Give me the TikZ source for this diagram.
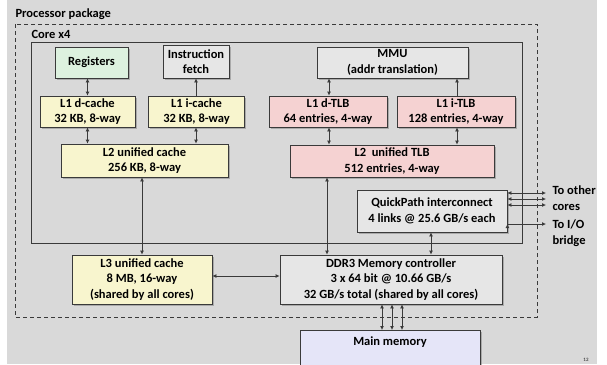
\documentclass[tikz,border=0pt]{standalone}
\usepackage{fontspec}
\setmainfont{Carlito}
\usetikzlibrary{arrows.meta, shadows}
\definecolor{bggray}{HTML}{D9D9D9}
\definecolor{linegray}{HTML}{3A3A3A}
\definecolor{regfill}{HTML}{DDF1DF}
\definecolor{cachefill}{HTML}{F8F5CE}
\definecolor{tlbfill}{HTML}{F5D2D2}
\definecolor{unitfill}{HTML}{E6E6E6}
\definecolor{memfill}{HTML}{E5E5F8}
\begin{document}
\begin{tikzpicture}[x=1pt, y=-1pt, font=\fontsize{12.5}{15.5}\selectfont\bfseries,
    unit/.style={draw=linegray, line width=0.8pt, align=center, inner sep=0pt,
        drop shadow={shadow xshift=1.5pt, shadow yshift=-1.5pt, fill=black!45, opacity=0.6}},
    link/.style={draw=linegray, line width=0.8pt, {Latex[length=4pt,width=4pt]}-{Latex[length=4pt,width=4pt]}},
    uplink/.style={draw=linegray, line width=0.8pt, -{Latex[length=4pt,width=4pt]}}]
    \useasboundingbox (0,0) rectangle (607,364);
    \fill[bggray] (7,0) rectangle (597,364);
    \draw[linegray, line width=0.8pt, dash pattern=on 4pt off 3pt] (15,24) rectangle (537,317);
    \node[anchor=west] (pkg) at (12,14) {Processor package};
    \draw[linegray, line width=0.8pt] (31,42) rectangle (522,243);
    \node[anchor=west] (core) at (28,34) {Core x4};

    \node[unit, fill=regfill, minimum width=73, minimum height=31] (reg) at (91.5,62.5) {Registers};
    \node[unit, fill=unitfill, minimum width=66, minimum height=33] (fetch) at (196,61.5) {Instruction\\fetch};
    \node[unit, fill=cachefill, minimum width=95, minimum height=31] (l1d) at (87.5,111.5) {L1 d-cache\\32 KB, 8-way};
    \node[unit, fill=cachefill, minimum width=96, minimum height=31] (l1i) at (196.5,111.5) {L1 i-cache\\32 KB, 8-way};
    \node[unit, fill=cachefill, minimum width=167, minimum height=33] (l2) at (144.5,160.5) {L2 unified cache\\256 KB, 8-way};
    \node[unit, fill=unitfill, minimum width=151, minimum height=31] (mmu) at (392.5,62.5) {MMU\\(addr translation)};
    \node[unit, fill=tlbfill, minimum width=118, minimum height=31] (dtlb) at (328,111.5) {L1 d-TLB\\64 entries, 4-way};
    \node[unit, fill=tlbfill, minimum width=118, minimum height=31] (itlb) at (456,111.5) {L1 i-TLB\\128 entries, 4-way};
    \node[unit, fill=tlbfill, minimum width=204, minimum height=32] (l2tlb) at (392,161) {L2\ \ unified TLB\\512 entries, 4-way};
    \node[unit, fill=unitfill, minimum width=150, minimum height=42] (qpi) at (432,211) {QuickPath interconnect\\4 links @ 25.6 GB/s each};
    \node[unit, fill=cachefill, minimum width=140, minimum height=49] (l3) at (142,279.5) {L3 unified cache\\8 MB, 16-way\\(shared by all cores)};
    \node[unit, fill=unitfill, minimum width=222, minimum height=49] (ddr) at (391,279.5) {DDR3 Memory controller\\3 x 64 bit @ 10.66 GB/s\\32 GB/s total (shared by all cores)};
    \node[unit, fill=memfill, minimum width=180, anchor=north, text depth=26pt, inner ysep=6pt] (mem) at (390,330) {Main memory};

    \draw[link] (l1d.north) -- (l1d.north |- reg.south);
    \draw[uplink] (fetch.south |- l1i.north) -- (fetch.south);
    \draw[link] (l1d.south) -- (l1d.south |- l2.north);
    \draw[link] (fetch.south |- l1i.south) -- (fetch.south |- l2.north);
    \draw[link] (l3.north) -- (l3.north |- l2.south);
    \draw[link] ([xshift=1pt]dtlb.north) -- ([xshift=1pt]dtlb.north |- mmu.south);
    \draw[uplink] ([xshift=1pt]itlb.north) -- ([xshift=1pt]itlb.north |- mmu.south);
    \draw[link] ([xshift=1pt]dtlb.south) -- ([xshift=1pt]dtlb.south |- l2tlb.north);
    \draw[link] ([xshift=1pt]itlb.south) -- ([xshift=1pt]itlb.south |- l2tlb.north);
    \draw[link] ([xshift=-1pt]dtlb.south |- l2tlb.south) -- ([xshift=-1pt]dtlb.south |- ddr.north);
    \draw[link] ([xshift=-1pt]qpi.south) -- ([xshift=-1pt]qpi.south |- ddr.north);
    \draw[link] ([yshift=3.5pt]l3.east) -- ([yshift=3.5pt]ddr.west);
    \draw[link] ([xshift=-9pt]ddr.south) -- ([xshift=-9pt]ddr.south |- mem.north);
    \draw[link] ([xshift=1pt]ddr.south) -- ([xshift=1pt]ddr.south |- mem.north);
    \draw[link] ([xshift=11pt]ddr.south) -- ([xshift=11pt]ddr.south |- mem.north);

    \coordinate (cores) at (546,199);
    \coordinate (bridge) at (546,224);
    \draw[link] ([yshift=18pt]qpi.east) -- ([yshift=18pt]qpi.east -| cores);
    \draw[link] ([yshift=12pt]qpi.east) -- ([yshift=12pt]qpi.east -| cores);
    \draw[link] ([yshift=6pt]qpi.east) -- ([yshift=6pt]qpi.east -| cores);
    \draw[link] ([yshift=-13pt]qpi.east) -- (qpi.east |- bridge) -- (bridge);
    \node[anchor=west, align=left] (tocores) at (549,198) {To other\\cores};
    \node[anchor=west, align=left] (tobridge) at (549,233) {To I/O\\bridge};
    \node[font=\fontsize{5}{6}\selectfont\bfseries, text=black!70] (page) at (586,360) {12};
\end{tikzpicture}
\end{document}
